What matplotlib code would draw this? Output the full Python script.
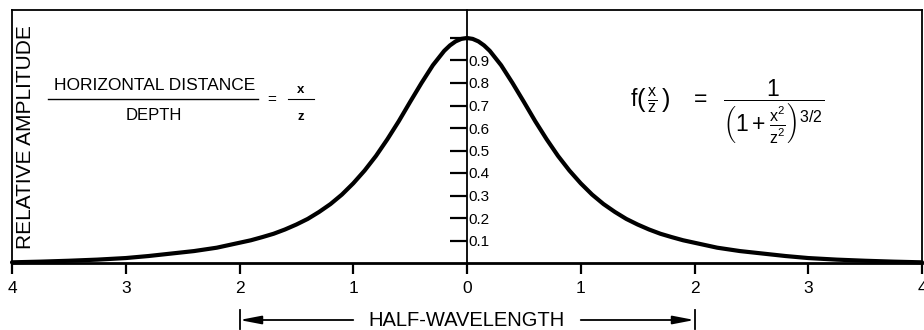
import matplotlib
matplotlib.use("Agg")
import matplotlib.pyplot as plt
from matplotlib.lines import Line2D

plt.rcParams['font.family'] = ['Liberation Sans', 'DejaVu Sans']
plt.rcParams['mathtext.fontset'] = 'custom'
plt.rcParams['mathtext.rm'] = 'Liberation Sans'
plt.rcParams['mathtext.it'] = 'Liberation Sans'
plt.rcParams['mathtext.bf'] = 'Liberation Sans:bold'

# ---- data ----
x_ratio = [-4.0, -3.75, -3.5, -3.25, -3.0, -2.8, -2.6, -2.4, -2.2, -2.0,
           -1.9, -1.8, -1.7, -1.6, -1.5, -1.4, -1.3, -1.2, -1.1, -1.0,
           -0.9, -0.8, -0.7, -0.6, -0.5, -0.4, -0.3, -0.2, -0.15, -0.1, -0.05, 0.0,
           0.05, 0.1, 0.15, 0.2, 0.3, 0.4, 0.5, 0.6, 0.7, 0.8, 0.9,
           1.0, 1.1, 1.2, 1.3, 1.4, 1.5, 1.6, 1.7, 1.8, 1.9,
           2.0, 2.2, 2.4, 2.6, 2.8, 3.0, 3.25, 3.5, 3.75, 4.0]
amplitude = [0.003, 0.006, 0.010, 0.015, 0.022, 0.031, 0.042, 0.053, 0.068, 0.090,
             0.101, 0.115, 0.130, 0.149, 0.171, 0.196, 0.227, 0.262, 0.304, 0.354,
             0.411, 0.476, 0.550, 0.630, 0.716, 0.800, 0.879, 0.943, 0.967, 0.985, 0.996, 1.000,
             0.996, 0.985, 0.967, 0.943, 0.879, 0.800, 0.716, 0.630, 0.550, 0.476, 0.411,
             0.354, 0.304, 0.262, 0.227, 0.196, 0.171, 0.149, 0.130, 0.115, 0.101,
             0.090, 0.068, 0.053, 0.042, 0.031, 0.022, 0.015, 0.010, 0.006, 0.003]
x_ticks = [-4, -3, -2, -1, 0, 1, 2, 3, 4]
x_tick_labels = ['4', '3', '2', '1', '0', '1', '2', '3', '4']
y_ticks = [0.1, 0.2, 0.3, 0.4, 0.5, 0.6, 0.7, 0.8, 0.9, 1.0]
y_tick_labels = ['0.1', '0.2', '0.3', '0.4', '0.5', '0.6', '0.7', '0.8', '0.9', '']
half_wavelength = [-2, 2]

W, H = 924, 330
fig = plt.figure(figsize=(W / 100, H / 100), dpi=100)
rect = [12 / W, 1 - 263 / H, 910 / W, 253 / H]
ax = fig.add_axes(rect)
ax.set_xlim(-4, 4)
ax.set_ylim(0, 253 / 225)
for s in ax.spines.values():
    s.set_linewidth(1.3)
ax.spines['bottom'].set_linewidth(2.0)
ax.set_yticks([])
ax.set_xticks(x_ticks)
ax.set_xticklabels(x_tick_labels, fontsize=12.5)
ax.tick_params(axis='x', direction='out', length=8, width=1.6, pad=5)

ax.plot(x_ratio, amplitude, color='black', lw=3.0, solid_capstyle='round',
        solid_joinstyle='round', clip_on=False, zorder=5)

# central amplitude axis
ay = fig.add_axes(rect)
ay.set_xlim(-4, 4)
ay.set_ylim(0, 253 / 225)
ay.patch.set_visible(False)
for k in ['left', 'top', 'bottom']:
    ay.spines[k].set_visible(False)
ay.set_xticks([])
ay.spines['right'].set_position(('data', 0))
ay.spines['right'].set_linewidth(1.3)
ay.yaxis.tick_right()
ay.set_yticks(y_ticks)
ay.set_yticklabels(y_tick_labels, fontsize=11)
ay.tick_params(axis='y', direction='in', length=12, width=1.6, pad=1)


def fx(px):
    return px / W


def fy(py):
    return 1 - py / H


# y label
fig.text(fx(26), fy(137), 'RELATIVE AMPLITUDE', rotation=90, fontsize=15,
         ha='center', va='center')

# left formula
fig.text(fx(155), fy(86), 'HORIZONTAL DISTANCE', fontsize=12.5, ha='center', va='center')
fig.add_artist(Line2D([fx(48), fx(258)], [fy(99), fy(99)], color='black', lw=1.0))
fig.text(fx(154), fy(115), 'DEPTH', fontsize=12, ha='center', va='center')
fig.text(fx(272), fy(100), '=', fontsize=11, ha='center', va='center')
fig.text(fx(301), fy(90), 'x', fontsize=9.5, ha='center', va='center', fontweight='bold')
fig.add_artist(Line2D([fx(288), fx(314)], [fy(99), fy(99)], color='black', lw=0.8))
fig.text(fx(301), fy(117), 'z', fontsize=9.5, ha='center', va='center', fontweight='bold')

# right formula
fig.text(fx(727), fy(112),
         r'$\mathrm{f}\left(\,\frac{\mathrm{x}}{\mathrm{z}}\,\right)\ \ \ =\ \ \dfrac{1}{\left(1+\frac{\mathrm{x}^2}{\mathrm{z}^2}\right)^{3/2}}$',
         fontsize=16.5, ha='center', va='center')

# half-wavelength arrows
tr = ax.get_xaxis_transform()
yf = -57 / 253
ax.text(0, yf, 'HALF-WAVELENGTH', transform=tr, ha='center', va='center', fontsize=14.5)
ax.annotate('', xy=(half_wavelength[0], yf), xytext=(-1.0, yf), xycoords=tr, textcoords=tr,
            arrowprops=dict(arrowstyle='-|>,head_length=1.3,head_width=0.25', color='black',
                            lw=1.3, shrinkA=0, shrinkB=0))
ax.annotate('', xy=(half_wavelength[1], yf), xytext=(1.0, yf), xycoords=tr, textcoords=tr,
            arrowprops=dict(arrowstyle='-|>,head_length=1.3,head_width=0.25', color='black',
                            lw=1.3, shrinkA=0, shrinkB=0))
for xv in half_wavelength:
    ax.plot([xv, xv], [-47 / 253, -66 / 253], transform=tr, color='black', lw=1.3, clip_on=False)

fig.savefig('out.png', dpi=100)
